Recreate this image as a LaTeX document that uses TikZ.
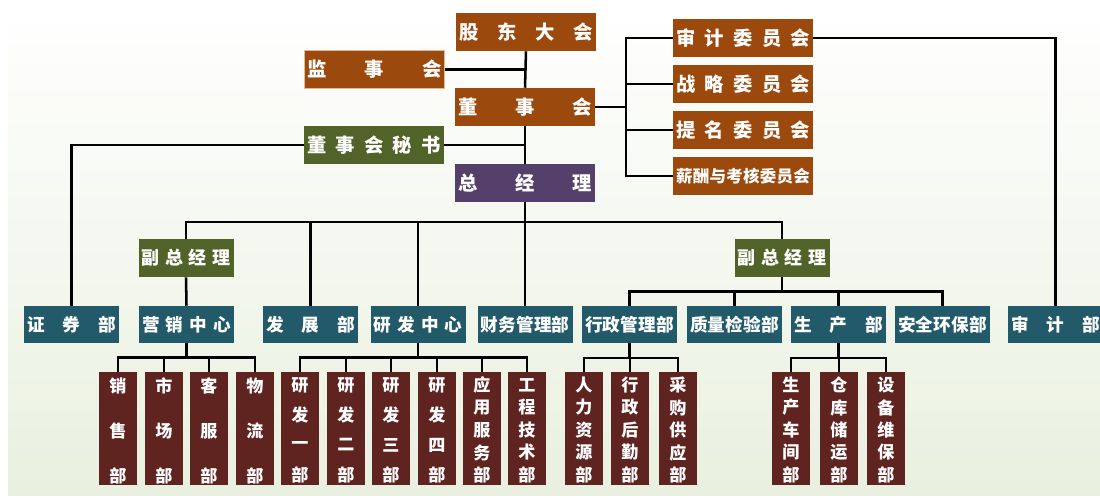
\documentclass[tikz,border=0pt]{standalone}
\usepackage{fontspec}
\newfontfamily\cjk{Noto Sans CJK SC}
\usetikzlibrary{calc}
\definecolor{cbrown}{RGB}{155,73,12}
\definecolor{colive}{RGB}{82,99,42}
\definecolor{cpurple}{RGB}{85,63,107}
\definecolor{cteal}{RGB}{35,90,106}
\definecolor{cdred}{RGB}{95,35,32}
\definecolor{cbg}{RGB}{233,240,223}
\definecolor{cborder}{RGB}{225,185,150}
\newcommand\spr[2]{\makebox[#1][s]{#2}}
\newcommand\tb[5]{\node[tall,path picture={\foreach \c [count=\i from 0] in {#3}{\node[vchar] at ($(path picture bounding box.north)+(0,{#5+\i*#4})$) {\c};}}] (#1) at (#2,428.5) {};}
\begin{document}
\begin{tikzpicture}[x=0.75pt,y=-0.75pt,
  box/.style={rectangle,inner sep=0pt,text=white},
  bigbox/.style={box,minimum width=105pt,minimum height=28.5pt,font=\cjk\bfseries\fontsize{14.5pt}{16pt}\selectfont},
  midbox/.style={box,minimum width=71.25pt,minimum height=28.5pt,font=\cjk\bfseries\fontsize{13.5pt}{15pt}\selectfont,fill=colive},
  dept/.style={box,minimum width=71.25pt,minimum height=27.75pt,font=\cjk\bfseries\fontsize{13.2pt}{15pt}\selectfont,fill=cteal},
  tall/.style={box,minimum width=28.5pt,minimum height=84.75pt,fill=cdred},
  vchar/.style={inner sep=0pt,text=white,font=\cjk\bfseries\fontsize{12.8pt}{14pt}\selectfont},
  conn/.style={draw=black,line width=1.9pt}]
\useasboundingbox (0,0) rectangle (1100,497);
\shade[top color=white,bottom color=cbg] (8,8) rectangle (1100,495);
% top
\node[bigbox,fill=cbrown] (gd) at (526,32) {\spr{100.5pt}{股\hfill 东\hfill 大\hfill 会}};
\node[bigbox,fill=cbrown,draw=cborder,line width=0.6pt] (js) at (374.5,69.5) {\spr{100.5pt}{监\hfill 事\hfill 会}};
\node[bigbox,fill=cbrown] (ds) at (525,107) {\spr{100.5pt}{董\hfill 事\hfill 会}};
\node[bigbox,fill=colive] (ms) at (374,145) {\spr{100.5pt}{董\hfill 事\hfill 会\hfill 秘\hfill 书}};
\node[bigbox,fill=cpurple] (zj) at (525,183) {\spr{100.5pt}{总\hfill 经\hfill 理}};
% committees
\node[bigbox,fill=cbrown] (c1) at (743,38) {\spr{100.5pt}{审\hfill 计\hfill 委\hfill 员\hfill 会}};
\node[bigbox,fill=cbrown] (c2) at (743,84) {\spr{100.5pt}{战\hfill 略\hfill 委\hfill 员\hfill 会}};
\node[bigbox,fill=cbrown] (c3) at (743,130) {\spr{100.5pt}{提\hfill 名\hfill 委\hfill 员\hfill 会}};
\node[bigbox,fill=cbrown,font=\cjk\bfseries\fontsize{12.4pt}{14pt}\selectfont] (c4) at (743,176) {\spr{100.5pt}{薪\hfill 酬\hfill 与\hfill 考\hfill 核\hfill 委\hfill 员\hfill 会}};
% vice GMs
\node[midbox] (fz1) at (186,258) {\spr{66.75pt}{副\hfill 总\hfill 经\hfill 理}};
\node[midbox] (fz2) at (782,258) {\spr{66.75pt}{副\hfill 总\hfill 经\hfill 理}};
% departments
\node[dept] (zq) at (71.5,324.5) {\spr{66.75pt}{证\hfill 券\hfill 部}};
\node[dept] (yx) at (186.5,324.5) {\spr{66.75pt}{营\hfill 销\hfill 中\hfill 心}};
\node[dept] (fzb) at (310.5,324.5) {\spr{66.75pt}{发\hfill 展\hfill 部}};
\node[dept] (yf) at (418,324.5) {\spr{66.75pt}{研\hfill 发\hfill 中\hfill 心}};
\node[dept] (cw) at (525,324.5) {\spr{66.75pt}{财\hfill 务\hfill 管\hfill 理\hfill 部}};
\node[dept] (xz) at (629.5,324.5) {\spr{66.75pt}{行\hfill 政\hfill 管\hfill 理\hfill 部}};
\node[dept] (zl) at (734.5,324.5) {\spr{66.75pt}{质\hfill 量\hfill 检\hfill 验\hfill 部}};
\node[dept] (sc) at (838.5,324.5) {\spr{66.75pt}{生\hfill 产\hfill 部}};
\node[dept] (aq) at (942.5,324.5) {\spr{66.75pt}{安\hfill 全\hfill 环\hfill 保\hfill 部}};
\node[dept] (sj) at (1055.5,324.5) {\spr{66.75pt}{审\hfill 计\hfill 部}};
% tall boxes
\tb{xs}{118}{销,售,部}{45}{14}
\tb{scb}{164}{市,场,部}{45}{14}
\tb{kf}{209}{客,服,部}{45}{14}
\tb{wl}{255}{物,流,部}{45}{14}
\tb{ya}{300}{研,发,一,部}{30}{13}
\tb{yb}{346}{研,发,二,部}{30}{13}
\tb{yc}{391}{研,发,三,部}{30}{13}
\tb{yd}{437}{研,发,四,部}{30}{13}
\tb{yy}{482}{应,用,服,务,部}{22.5}{13}
\tb{gc}{527}{工,程,技,术,部}{22.5}{13}
\tb{rl}{584}{人,力,资,源,部}{22.5}{13}
\tb{hq}{630}{行,政,后,勤,部}{22.5}{13}
\tb{cg}{678}{采,购,供,应,部}{22.5}{13}
\tb{cj}{791}{生,产,车,间,部}{22.5}{13}
\tb{ck}{839}{仓,库,储,运,部}{22.5}{13}
\tb{sb}{886}{设,备,维,保,部}{22.5}{13}
% connectors
\coordinate (cbx) at (626,107);
\coordinate (bus) at (0,222);
\draw[conn] (gd.south) -- (ds.north);
\draw[conn] (js.east) -- (js.east -| ds.north);
\draw[conn] (ds.south) -- (zj.north);
\draw[conn] (ms.east) -- (ms.east -| zj.north);
\draw[conn] (ds.east) -- (cbx);
\draw[conn] (c1.west) -- (c1.west -| cbx) -- (c4.west -| cbx) -- (c4.west);
\draw[conn] (c2.west) -- (c2.west -| cbx);
\draw[conn] (c3.west) -- (c3.west -| cbx);
\draw[conn] (c1.east) -| (sj.north);
\draw[conn] (ms.west) -| (zq.north);
\draw[conn] (zj.south) -- (cw.north);
\draw[conn] (fz1.north) |- (bus -| fz2.north) -- (fz2.north);
\draw[conn] (fzb.north) -- (fzb.north |- bus);
\draw[conn] (yf.north) -- (yf.north |- bus);
\draw[conn] (fz1.south) -- (yx.north);
\foreach \n in {xz,zl,sc,aq} \draw[conn] (fz2.south) -- ++(0,14) -| (\n.north);
\foreach \n in {xs,scb,kf,wl} \draw[conn] (yx.south) -- ++(0,14) -| (\n.north);
\foreach \n in {ya,yb,yc,yd,yy,gc} \draw[conn] (yf.south) -- ++(0,14) -| (\n.north);
\foreach \n in {rl,hq,cg} \draw[conn] (xz.south) -- ++(0,14.5) -| (\n.north);
\foreach \n in {cj,ck,sb} \draw[conn] (sc.south) -- ++(0,14.5) -| (\n.north);
\end{tikzpicture}
\end{document}
